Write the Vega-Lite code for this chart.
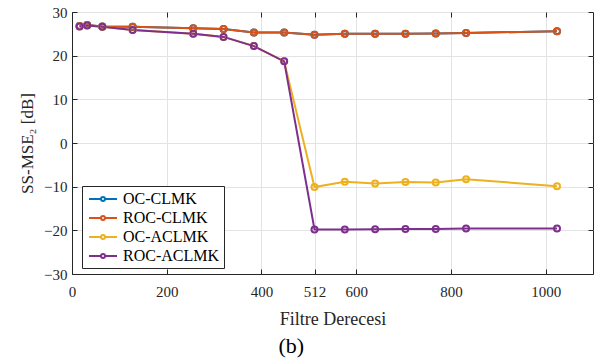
{
  "$schema": "https://vega.github.io/schema/vega-lite/v6.json",
  "width": 521,
  "height": 262,
  "autosize": "none",
  "padding": {"left": 72, "top": 12, "right": 21, "bottom": 86},
  "background": "white",
  "config": {
    "font": "Liberation Serif",
    "view": {"stroke": "#262626", "strokeWidth": 1},
    "axis": {"domainColor": "#262626", "tickColor": "#262626", "labelColor": "#262626", "titleColor": "#262626", "gridColor": "#e3e3e3", "labelFont": "Liberation Serif", "titleFont": "Liberation Serif", "labelFontSize": 15, "titleFontSize": 17, "titleFontWeight": "normal"},
    "legend": {"labelFont": "Liberation Serif"}
  },
  "title": {"text": "(b)", "orient": "bottom", "anchor": "start", "dx": 260, "offset": 8, "fontSize": 22, "font": "Liberation Serif", "fontWeight": "normal", "color": "#000000"},
  "data": {"values": [
    {"s": "OC-CLMK", "x": 16, "y": 26.8}, {"s": "OC-CLMK", "x": 32, "y": 27.0}, {"s": "OC-CLMK", "x": 64, "y": 26.7}, {"s": "OC-CLMK", "x": 128, "y": 26.6}, {"s": "OC-CLMK", "x": 256, "y": 26.3}, {"s": "OC-CLMK", "x": 320, "y": 26.1}, {"s": "OC-CLMK", "x": 384, "y": 25.3}, {"s": "OC-CLMK", "x": 448, "y": 25.3}, {"s": "OC-CLMK", "x": 512, "y": 24.8}, {"s": "OC-CLMK", "x": 576, "y": 25.0}, {"s": "OC-CLMK", "x": 640, "y": 25.0}, {"s": "OC-CLMK", "x": 704, "y": 25.0}, {"s": "OC-CLMK", "x": 768, "y": 25.1}, {"s": "OC-CLMK", "x": 832, "y": 25.2}, {"s": "OC-CLMK", "x": 1024, "y": 25.6},
    {"s": "ROC-CLMK", "x": 16, "y": 26.8}, {"s": "ROC-CLMK", "x": 32, "y": 27.0}, {"s": "ROC-CLMK", "x": 64, "y": 26.7}, {"s": "ROC-CLMK", "x": 128, "y": 26.6}, {"s": "ROC-CLMK", "x": 256, "y": 26.3}, {"s": "ROC-CLMK", "x": 320, "y": 26.1}, {"s": "ROC-CLMK", "x": 384, "y": 25.3}, {"s": "ROC-CLMK", "x": 448, "y": 25.3}, {"s": "ROC-CLMK", "x": 512, "y": 24.8}, {"s": "ROC-CLMK", "x": 576, "y": 25.0}, {"s": "ROC-CLMK", "x": 640, "y": 25.0}, {"s": "ROC-CLMK", "x": 704, "y": 25.0}, {"s": "ROC-CLMK", "x": 768, "y": 25.1}, {"s": "ROC-CLMK", "x": 832, "y": 25.2}, {"s": "ROC-CLMK", "x": 1024, "y": 25.6},
    {"s": "OC-ACLMK", "x": 16, "y": 26.7}, {"s": "OC-ACLMK", "x": 32, "y": 26.9}, {"s": "OC-ACLMK", "x": 64, "y": 26.6}, {"s": "OC-ACLMK", "x": 128, "y": 25.9}, {"s": "OC-ACLMK", "x": 256, "y": 25.0}, {"s": "OC-ACLMK", "x": 320, "y": 24.3}, {"s": "OC-ACLMK", "x": 384, "y": 22.2}, {"s": "OC-ACLMK", "x": 448, "y": 18.7}, {"s": "OC-ACLMK", "x": 512, "y": -10.1}, {"s": "OC-ACLMK", "x": 576, "y": -8.85}, {"s": "OC-ACLMK", "x": 640, "y": -9.25}, {"s": "OC-ACLMK", "x": 704, "y": -8.95}, {"s": "OC-ACLMK", "x": 768, "y": -9.05}, {"s": "OC-ACLMK", "x": 832, "y": -8.3}, {"s": "OC-ACLMK", "x": 1024, "y": -9.9},
    {"s": "ROC-ACLMK", "x": 16, "y": 26.7}, {"s": "ROC-ACLMK", "x": 32, "y": 26.9}, {"s": "ROC-ACLMK", "x": 64, "y": 26.6}, {"s": "ROC-ACLMK", "x": 128, "y": 25.9}, {"s": "ROC-ACLMK", "x": 256, "y": 25.0}, {"s": "ROC-ACLMK", "x": 320, "y": 24.3}, {"s": "ROC-ACLMK", "x": 384, "y": 22.2}, {"s": "ROC-ACLMK", "x": 448, "y": 18.7}, {"s": "ROC-ACLMK", "x": 512, "y": -19.8}, {"s": "ROC-ACLMK", "x": 576, "y": -19.8}, {"s": "ROC-ACLMK", "x": 640, "y": -19.75}, {"s": "ROC-ACLMK", "x": 704, "y": -19.7}, {"s": "ROC-ACLMK", "x": 768, "y": -19.7}, {"s": "ROC-ACLMK", "x": 832, "y": -19.6}, {"s": "ROC-ACLMK", "x": 1024, "y": -19.6}
  ]},
  "resolve": {"axis": {"x": "independent", "y": "independent"}},
  "layer": [
    {
      "mark": {"type": "line", "strokeWidth": 2},
      "encoding": {
        "x": {"field": "x", "type": "quantitative", "scale": {"domain": [0, 1100], "nice": false, "zero": false},
          "axis": {"values": [0, 200, 400, 512, 600, 800, 1000], "format": "d", "title": "Filtre Derecesi", "grid": true, "tickSize": -5, "labelPadding": 15, "titlePadding": 11, "labelFlush": false, "labelFont": "Liberation Serif", "titleFont": "Liberation Serif", "labelFontSize": 15, "titleFontSize": 18}},
        "y": {"field": "y", "type": "quantitative", "scale": {"domain": [-30, 30], "nice": false, "zero": false},
          "axis": {"values": [-30, -20, -10, 0, 10, 20, 30], "format": "d", "title": "SS-MSE₂ [dB]", "grid": true, "tickSize": -5, "labelPadding": 10, "titlePadding": 7, "labelFlush": false, "labelFont": "Liberation Serif", "titleFont": "Liberation Serif", "labelFontSize": 15, "titleFontSize": 17}},
        "color": {"field": "s", "type": "nominal",
          "scale": {"domain": ["OC-CLMK", "ROC-CLMK", "OC-ACLMK", "ROC-ACLMK"], "range": ["#0072BD", "#D95319", "#EDB120", "#7E2F8E"]},
          "legend": {"title": null, "orient": "none", "legendX": 10, "legendY": 174, "fillColor": "white", "strokeColor": "#262626", "padding": 4, "labelFontSize": 16, "labelFont": "Liberation Serif", "labelColor": "#000000", "symbolType": "M-0.75,0L0.75,0M1.25,0L2.75,0M0.75,0A0.25,0.25 0 1,1 1.25,0A0.25,0.25 0 1,1 0.75,0", "symbolSize": 256, "symbolStrokeWidth": 2, "symbolFillColor": "transparent", "rowPadding": 2, "labelOffset": 19}}
      }
    },
    {
      "mark": {"type": "point", "filled": false, "size": 36, "strokeWidth": 2, "opacity": 1},
      "encoding": {
        "x": {"field": "x", "type": "quantitative", "axis": null},
        "y": {"field": "y", "type": "quantitative", "axis": null},
        "color": {"field": "s", "type": "nominal"}
      }
    },
    {
      "mark": {"type": "point", "opacity": 0},
      "encoding": {
        "x": {"field": "x", "type": "quantitative", "axis": {"orient": "top", "values": [0, 200, 400, 512, 600, 800, 1000], "labels": false, "title": null, "grid": false, "tickSize": -5, "domain": false}},
        "y": {"field": "y", "type": "quantitative", "axis": {"orient": "right", "values": [-30, -20, -10, 0, 10, 20, 30], "labels": false, "title": null, "grid": false, "tickSize": -5, "domain": false}}
      }
    }
  ]
}
